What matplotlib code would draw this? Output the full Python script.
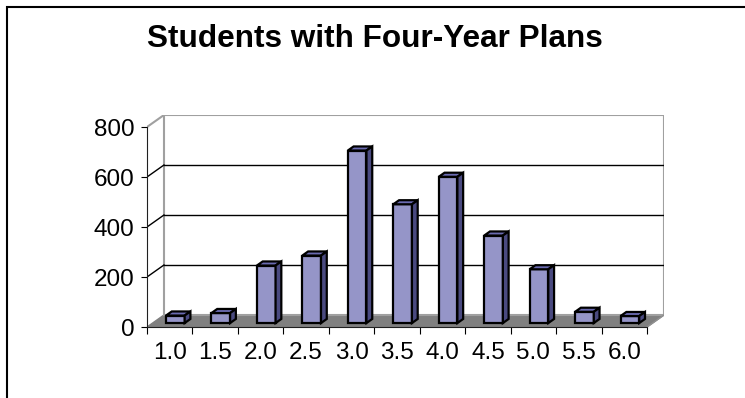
import numpy as np
import matplotlib.pyplot as plt
from matplotlib.patches import Polygon, Rectangle

plt.rcParams['font.family'] = ['Liberation Sans', 'DejaVu Sans']

categories = ['1.0', '1.5', '2.0', '2.5', '3.0', '3.5', '4.0', '4.5', '5.0', '5.5', '6.0']
students = [30, 40, 230, 270, 690, 475, 585, 350, 215, 45, 28]
yticks = [0, 200, 400, 600, 800]

# fake 3d: depth shift of the back wall, in data units
DX = 0.373
DY = 48
f0, f1 = 0.33, 0.67   # bar front / back depth (fraction of the full depth)
W = 0.41

front_col = '#9595c8'
top_col = '#6a6ab0'
side_col = '#4a4a80'

fig = plt.figure(figsize=(7.45, 3.98), dpi=100)
fig.patches.append(Rectangle((7 / 745, -0.1), 1.2, 1 - 7 / 398 + 0.1,
                             transform=fig.transFigure, fill=False,
                             edgecolor='black', linewidth=1.5))
fig.text(0.503, 1 - 47 / 398, 'Students with Four-Year Plans',
         ha='center', va='baseline', fontsize=22.7, fontweight='bold')

ax = fig.add_axes([147 / 745, (398 - 327) / 398, (664 - 147) / 745, (327 - 115) / 398])
n = len(categories)
x = np.arange(n)
xl, xr = -0.5, n - 0.5
ymax = yticks[-1]
ax.set_xlim(xl, xr + DX)
ax.set_ylim(0, ymax + DY)

# floor
ax.add_patch(Polygon([(xl, 0), (xr, 0), (xr + DX, DY), (xl + DX, DY)],
                     closed=True, facecolor='#808080', edgecolor='#808080', zorder=1))
ax.plot([xr, xr + DX], [0, DY], color='#909090', lw=1, zorder=1.5)
# back wall
ax.add_patch(Rectangle((xl + DX, DY), xr - xl, ymax, facecolor='white',
                       edgecolor='#a0a0a0', lw=1.5, zorder=1))
for v in yticks[1:-1]:
    ax.plot([xl + DX, xr + DX], [v + DY, v + DY], color='black', lw=1, zorder=1.5)
    ax.plot([xl, xl + DX], [v, v + DY], color='black', lw=1, zorder=1.5)
ax.plot([xl, xl + DX], [ymax, ymax + DY], color='#a0a0a0', lw=1.5, zorder=1.5)

# bars
ax.bar(x + f0 * DX, students, width=W, bottom=f0 * DY, color=front_col,
       edgecolor='black', linewidth=1.6, zorder=3)
ddx = (f1 - f0) * DX
ddy = (f1 - f0) * DY
for xi, v in zip(x, students):
    left = xi + f0 * DX - W / 2
    right = left + W
    base = f0 * DY
    top = base + v
    ax.add_patch(Polygon([(left, top), (right, top), (right + ddx, top + ddy), (left + ddx, top + ddy)],
                         closed=True, facecolor=top_col, edgecolor='black', lw=1.6, zorder=3))
    ax.add_patch(Polygon([(right, base), (right + ddx, base + ddy), (right + ddx, top + ddy), (right, top)],
                         closed=True, facecolor=side_col, edgecolor='black', lw=1.6, zorder=3))

# axes
for s in ['top', 'right']:
    ax.spines[s].set_visible(False)
ax.spines['left'].set_bounds(0, ymax)
ax.spines['bottom'].set_bounds(xl, xr)
ax.spines['left'].set_color('#202020')
ax.spines['bottom'].set_color('#202020')
ax.spines['left'].set_zorder(4)
ax.spines['bottom'].set_zorder(4)
ax.set_yticks(yticks)
ax.set_yticklabels([str(t) for t in yticks])
ax.tick_params(axis='y', length=4, direction='out', pad=5, labelsize=17.5)
ax.set_xticks(np.arange(n + 1) - 0.5)
ax.set_xticklabels([])
ax.set_xticks(x, minor=True)
ax.set_xticklabels(categories, minor=True)
ax.tick_params(axis='x', which='major', length=5, direction='out')
ax.tick_params(axis='x', which='minor', length=0, pad=11, labelsize=17.5)
ax.patch.set_visible(False)

fig.savefig('out.png', dpi=100)
